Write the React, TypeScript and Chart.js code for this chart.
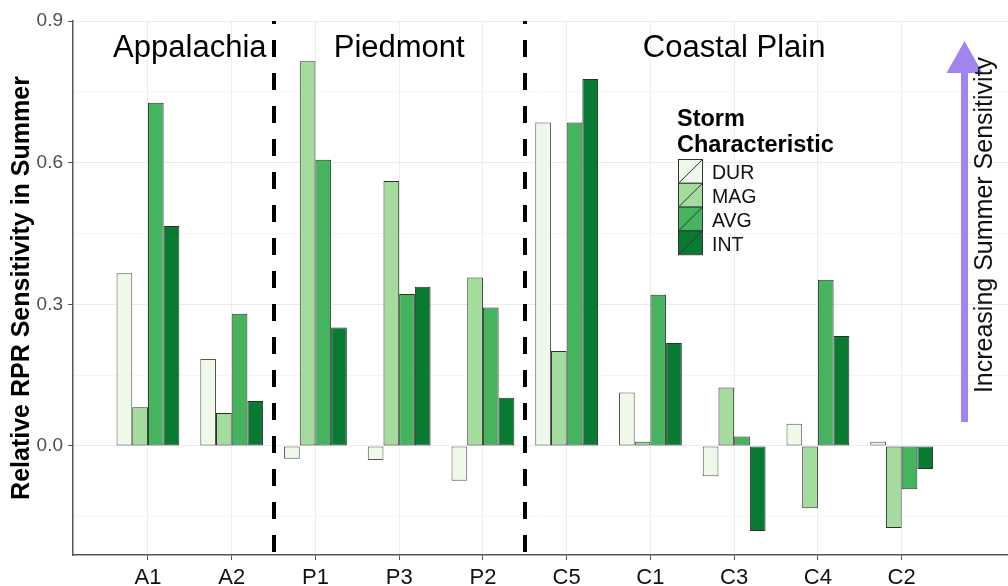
import React, { useEffect, useRef } from "react";
import { Chart, registerables } from "chart.js";

Chart.register(...registerables);

const categories = ["A1", "A2", "P1", "P3", "P2", "C5", "C1", "C3", "C4", "C2"];
const seriesNames = ["DUR", "MAG", "AVG", "INT"];
const durValues = [0.366, 0.184, -0.027, -0.03, -0.074, 0.685, 0.113, -0.064, 0.047, 0.009];
const magValues = [0.082, 0.07, 0.815, 0.561, 0.357, 0.201, 0.009, 0.124, -0.132, -0.174];
const avgValues = [0.727, 0.28, 0.606, 0.322, 0.293, 0.685, 0.32, 0.02, 0.352, -0.092];
const intValues = [0.466, 0.095, 0.251, 0.337, 0.102, 0.777, 0.218, -0.18, 0.233, -0.049];
const seriesColors = ["#eef9ea", "#a3dc9c", "#46b45f", "#087a32"];
const yTickValues = [-0.15, 0, 0.15, 0.3, 0.45, 0.6, 0.75, 0.9];
const yMajorTicks = [0, 0.3, 0.6, 0.9];
const regionNames = ["Appalachia", "Piedmont", "Coastal Plain"];
const regionCenters = [1.5, 4, 8];
const regionDividers = [2.5, 5.5];
const legendTitle = ["Storm", "Characteristic"];
const arrowLabel = "Increasing Summer Sensitivity";
const yTitle = "Relative RPR Sensitivity in Summer";

const FONT = "'Liberation Sans', Arial, Helvetica, sans-serif";

const overlayPlugin = {
  id: "overlay",
  afterDatasetsDraw(chart: any) {
    const ctx = chart.ctx as CanvasRenderingContext2D;
    const xs = chart.scales.x;
    const area = chart.chartArea;
    ctx.save();

    // dashed dividers
    ctx.strokeStyle = "#000";
    ctx.lineWidth = 4;
    ctx.setLineDash([17, 16]);
    ctx.lineDashOffset = 14;
    regionDividers.forEach((d) => {
      const px = Math.round(xs.getPixelForValue(d));
      ctx.beginPath();
      ctx.moveTo(px, area.top);
      ctx.lineTo(px, area.bottom);
      ctx.stroke();
    });
    ctx.setLineDash([]);

    // region labels
    ctx.fillStyle = "#000";
    ctx.font = `31px ${FONT}`;
    ctx.textAlign = "center";
    ctx.textBaseline = "alphabetic";
    regionNames.forEach((n, i) => {
      ctx.fillText(n, xs.getPixelForValue(regionCenters[i]), 57);
    });

    // legend
    ctx.textAlign = "left";
    ctx.font = `bold 23.5px ${FONT}`;
    ctx.fillText(legendTitle[0], 677, 126);
    ctx.fillText(legendTitle[1], 677, 152);
    const lx = 678;
    const ly = 159;
    const bw = 24;
    const bh = 23.8;
    ctx.font = `19.5px ${FONT}`;
    chart.data.datasets.forEach((ds: any, i: number) => {
      const y = ly + i * bh;
      ctx.fillStyle = ds.backgroundColor;
      ctx.fillRect(lx, y, bw, bh);
      ctx.strokeStyle = "#333";
      ctx.lineWidth = 1;
      ctx.strokeRect(lx + 0.5, y + 0.5, bw, bh);
      ctx.beginPath();
      ctx.moveTo(lx + 0.5, y + bh + 0.5);
      ctx.lineTo(lx + bw + 0.5, y + 0.5);
      ctx.stroke();
      ctx.fillStyle = "#111";
      ctx.fillText(ds.label, 712, y + bh / 2 + 8.5);
    });

    // arrow
    ctx.fillStyle = "#a184f0";
    ctx.fillRect(961, 72, 7, 350);
    ctx.beginPath();
    ctx.moveTo(964.5, 41);
    ctx.lineTo(982.5, 73);
    ctx.lineTo(946.5, 73);
    ctx.closePath();
    ctx.fill();

    ctx.translate(985, 225);
    ctx.rotate(-Math.PI / 2);
    ctx.fillStyle = "#111";
    ctx.font = `25px ${FONT}`;
    ctx.textAlign = "center";
    ctx.textBaseline = "middle";
    ctx.fillText(arrowLabel, 0, 0);
    ctx.restore();
  },
};

export default function App() {
  const ref = useRef<HTMLCanvasElement | null>(null);
  useEffect(() => {
    document.body.style.margin = "0";
    if (!ref.current) return;
    const allValues = [durValues, magValues, avgValues, intValues];
    const chart = new Chart(ref.current, {
      type: "bar",
      data: {
        datasets: seriesNames.map((name, si) => ({
          label: name,
          data: allValues[si].map((v, i) => ({ x: i + 1, y: v })),
          backgroundColor: seriesColors[si],
          borderColor: si === 0 ? "#555" : "#2f2f2f",
          borderWidth: 1,
          borderSkipped: false,
          categoryPercentage: 0.75,
          barPercentage: 1,
        })),
      },
      options: {
        animation: false,
        responsive: false,
        devicePixelRatio: 1,
        layout: { padding: { left: 0, right: 0, top: 21, bottom: 0 } },
        plugins: { legend: { display: false }, tooltip: { enabled: false } },
        scales: {
          x: {
            type: "linear",
            offset: false,
            min: 0.105,
            max: 11.27,
            afterBuildTicks: (scale: any) => {
              scale.ticks = categories.map((_, i) => ({ value: i + 1 }));
            },
            afterFit: (scale: any) => {
              scale.height = 31;
            },
            ticks: {
              autoSkip: false,
              maxRotation: 0,
              padding: 5,
              color: "#111",
              font: { family: FONT, size: 22 },
              callback: (v: any) => categories[Math.round(Number(v)) - 1] ?? "",
            },
            grid: {
              offset: false,
              color: "#ededed",
              lineWidth: 1,
              tickColor: "#555",
              tickLength: 5,
            },
            border: { display: true, color: "#555", width: 1.5 },
          },
          y: {
            type: "linear",
            min: -0.231,
            max: 0.9,
            afterBuildTicks: (scale: any) => {
              scale.ticks = yTickValues.map((v) => ({ value: v }));
            },
            afterFit: (scale: any) => {
              scale.width = 73;
            },
            ticks: {
              padding: 5,
              color: "#4d4d4d",
              font: { family: FONT, size: 19 },
              callback: (v: any) =>
                yMajorTicks.some((m) => Math.abs(m - Number(v)) < 1e-6) ? Number(v).toFixed(1) : "",
            },
            grid: {
              color: (c: any) =>
                yMajorTicks.some((m) => Math.abs(m - c.tick?.value) < 1e-6) ? "#ebebeb" : "#f6f6f6",
              tickColor: (c: any) =>
                yMajorTicks.some((m) => Math.abs(m - c.tick?.value) < 1e-6) ? "#555" : "rgba(0,0,0,0)",
              tickLength: 5,
            },
            border: { display: true, color: "#555", width: 1.5 },
            title: {
              display: true,
              text: yTitle,
              color: "#000",
              font: { family: FONT, size: 25, weight: "bold" },
              padding: { top: 7, bottom: 0 },
            },
          },
        },
      },
      plugins: [overlayPlugin],
    } as any);
    return () => chart.destroy();
  }, []);
  return (
    <div style={{ width: 1008, height: 586, background: "#fff" }}>
      <canvas ref={ref} width={1008} height={586} style={{ display: "block" }} />
    </div>
  );
}
